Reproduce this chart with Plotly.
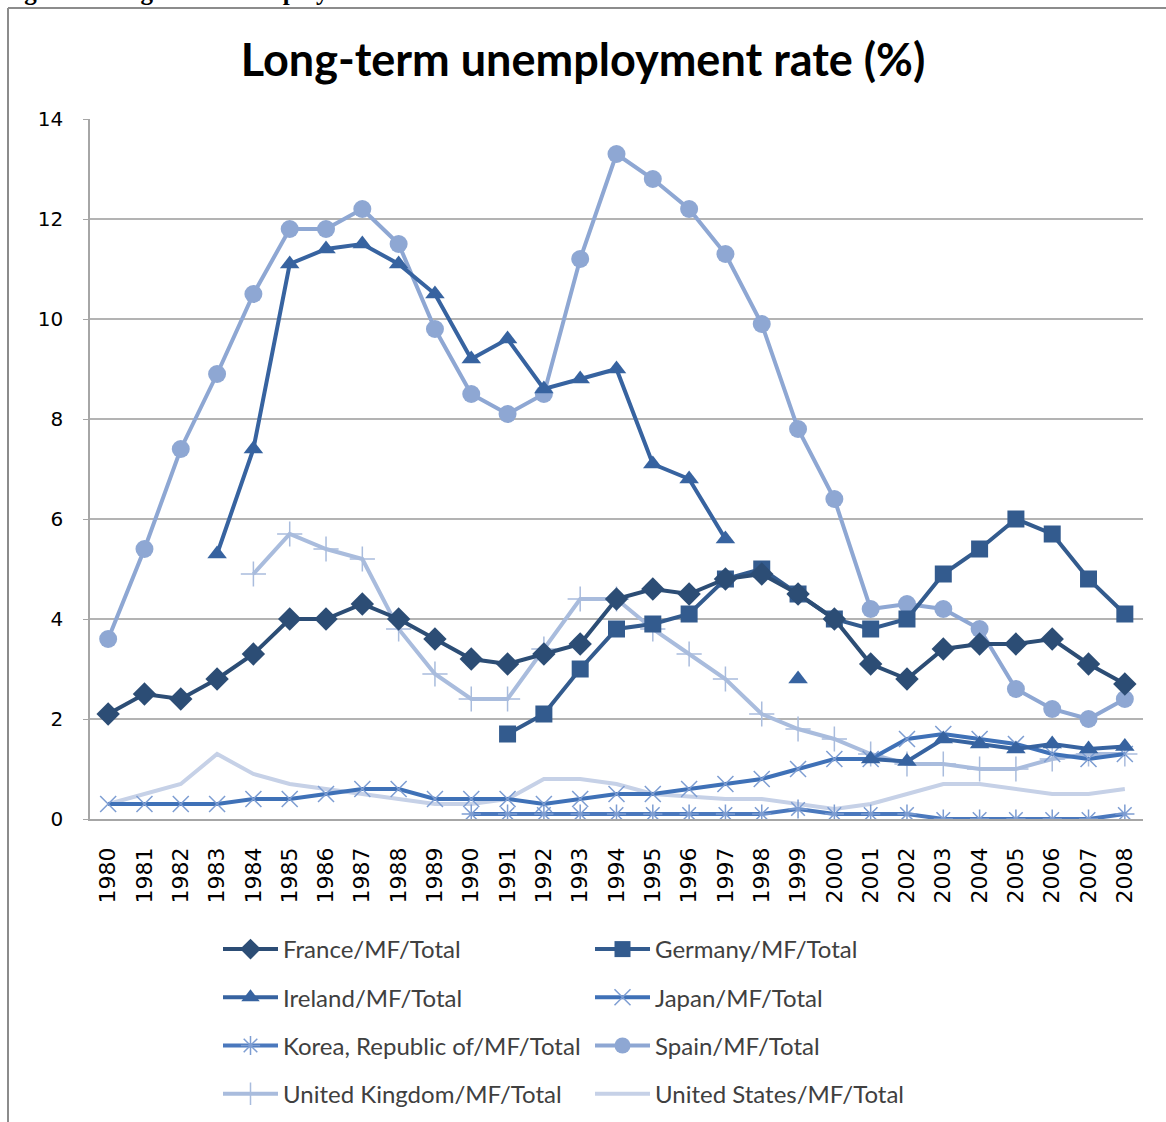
import plotly.graph_objects as go

years = [str(y) for y in range(1980, 2009)]

france = [2.1, 2.5, 2.4, 2.8, 3.3, 4.0, 4.0, 4.3, 4.0, 3.6, 3.2, 3.1, 3.3, 3.5, 4.4,
          4.6, 4.5, 4.8, 4.9, 4.5, 4.0, 3.1, 2.8, 3.4, 3.5, 3.5, 3.6, 3.1, 2.7]
germany = [None] * 11 + [1.7, 2.1, 3.0, 3.8, 3.9, 4.1, 4.8, 5.0, 4.5, 4.0, 3.8, 4.0,
                         4.9, 5.4, 6.0, 5.7, 4.8, 4.1]
ireland = [None, None, None, 5.3, 7.4, 11.1, 11.4, 11.5, 11.1, 10.5, 9.2, 9.6, 8.6, 8.8,
           9.0, 7.1, 6.8, 5.6, None, 2.8, None, 1.2, 1.15, 1.6, 1.5, 1.4, 1.5, 1.4, 1.45]
japan = [0.3, 0.3, 0.3, 0.3, 0.4, 0.4, 0.5, 0.6, 0.6, 0.4, 0.4, 0.4, 0.3, 0.4, 0.5,
         0.5, 0.6, 0.7, 0.8, 1.0, 1.2, 1.2, 1.6, 1.7, 1.6, 1.5, 1.3, 1.2, 1.3]
korea = [None] * 10 + [0.1, 0.1, 0.1, 0.1, 0.1, 0.1, 0.1, 0.1, 0.1, 0.2, 0.1, 0.1, 0.1,
                       0.0, 0.0, 0.0, 0.0, 0.0, 0.1]
spain = [3.6, 5.4, 7.4, 8.9, 10.5, 11.8, 11.8, 12.2, 11.5, 9.8, 8.5, 8.1, 8.5, 11.2, 13.3,
         12.8, 12.2, 11.3, 9.9, 7.8, 6.4, 4.2, 4.3, 4.2, 3.8, 2.6, 2.2, 2.0, 2.4]
uk = [None] * 4 + [4.9, 5.7, 5.4, 5.2, 3.8, 2.9, 2.4, 2.4, 3.4, 4.4, 4.4, 3.8, 3.3, 2.8,
                   2.1, 1.8, 1.6, 1.3, 1.1, 1.1, 1.0, 1.0, 1.2, 1.3, 1.3]
us = [0.3, 0.5, 0.7, 1.3, 0.9, 0.7, 0.6, 0.5, 0.4, 0.3, 0.3, 0.4, 0.8, 0.8, 0.7,
      0.5, 0.45, 0.4, 0.4, 0.3, 0.2, 0.3, 0.5, 0.7, 0.7, 0.6, 0.5, 0.5, 0.6]

series = [
    # name, values, line color, marker symbol, marker size, marker color, legend, open?
    ("France/MF/Total", france, "#2c4d75", "diamond", 18, "#2c4d75", "legend", False),
    ("Ireland/MF/Total", ireland, "#3763a0", "triangle-up", 17, "#3763a0", "legend", False),
    ("Korea, Republic of/MF/Total", korea, "#4a78bd", "asterisk", 16, "#7d9dd2", "legend", True),
    ("United Kingdom/MF/Total", uk, "#a9bcdd", "cross-thin", 18, "#a9bcdd", "legend", True),
    ("Germany/MF/Total", germany, "#335b8e", "square", 17, "#335b8e", "legend2", False),
    ("Japan/MF/Total", japan, "#3f71b7", "x-thin", 16, "#7d9dd2", "legend2", True),
    ("Spain/MF/Total", spain, "#8ea7d3", "circle", 18, "#8ea7d3", "legend2", False),
    ("United States/MF/Total", us, "#c6d1e7", None, 0, "#c6d1e7", "legend2", False),
]

fig = go.Figure()
# draw in reverse so darker series sit on top
order = [7, 3, 6, 2, 5, 1, 4, 0]
for i in order:
    name, vals, lc, sym, ms, mc, leg, is_open = series[i]
    if sym is None:
        mode = "lines"
        marker = None
    else:
        mode = "lines+markers"
        if is_open:
            marker = dict(symbol=sym, size=ms, color=mc, line=dict(color=mc, width=1.5))
        else:
            marker = dict(symbol=sym, size=ms, color=mc, line=dict(width=0))
    fig.add_trace(go.Scatter(
        x=years, y=vals, name=name, mode=mode, marker=marker,
        line=dict(color=lc, width=4), connectgaps=False,
        legend=leg, legendgroup=name, legendrank=i,
    ))

L, R, T, B = 90, 23, 119, 303
W, H = 1166, 1122
pw, ph = W - L - R, H - T - B

def px_x(p):
    return (p - L) / pw

def px_y(p):
    return (H - B - p) / ph

legend_common = dict(
    orientation="v", font=dict(family="Lato", size=24, color="#404040"),
    tracegroupgap=14, itemwidth=55, bgcolor="rgba(0,0,0,0)",
    xanchor="left", yanchor="top", itemsizing="trace",
    xref="container", yref="container",
)

fig.update_layout(
    width=W, height=H,
    margin=dict(l=L, r=R, t=T, b=B, autoexpand=False),
    paper_bgcolor="white", plot_bgcolor="white",
    title=dict(text="<b>Long-term unemployment rate (%)</b>",
               font=dict(family="Lato", size=45, color="#000000"),
               x=0.5, xref="container", xanchor="center",
               y=1 - 60 / H, yref="container", yanchor="middle"),
    showlegend=True,
    legend=dict(x=218 / W, y=1 - 927 / H, **legend_common),
    legend2=dict(x=590 / W, y=1 - 927 / H, **legend_common),
    xaxis=dict(type="category", range=[-0.5, 28.5], tickangle=-90,
               tickfont=dict(family="DejaVu Sans", size=22, color="#000000"),
               showgrid=False, showline=True, linecolor="#a6a6a6", linewidth=1.5,
               ticks="", ticklen=0, ticklabelstandoff=18, automargin=False),
    yaxis=dict(range=[0, 14], dtick=2, tickfont=dict(family="DejaVu Sans", size=20, color="#000000"),
               showgrid=True, gridcolor="#b3b3b3", gridwidth=1.5,
               showline=True, linecolor="#a6a6a6", linewidth=1.5,
               ticks="outside", ticklen=5, tickcolor="#a6a6a6", zeroline=False,
               ticklabelstandoff=16, automargin=False),
    shapes=[
        dict(type="line", xref="paper", yref="paper", x0=px_x(8), x1=px_x(8),
             y0=px_y(8), y1=px_y(1122), line=dict(color="#8c8c8c", width=2)),
        dict(type="line", xref="paper", yref="paper", x0=px_x(8), x1=px_x(1166),
             y0=px_y(8), y1=px_y(8), line=dict(color="#8c8c8c", width=2)),
    ],
    annotations=[
        dict(text="<b>Figure ? Long-term Unemployment Rates of Selected 8 countries from 1980 to 2008</b>",
             xref="paper", yref="paper", x=px_x(0), y=px_y(7), xanchor="left", yanchor="bottom",
             showarrow=False, font=dict(family="Liberation Serif", size=25, color="#000000")),
    ],
)

fig.write_html("out.html")
